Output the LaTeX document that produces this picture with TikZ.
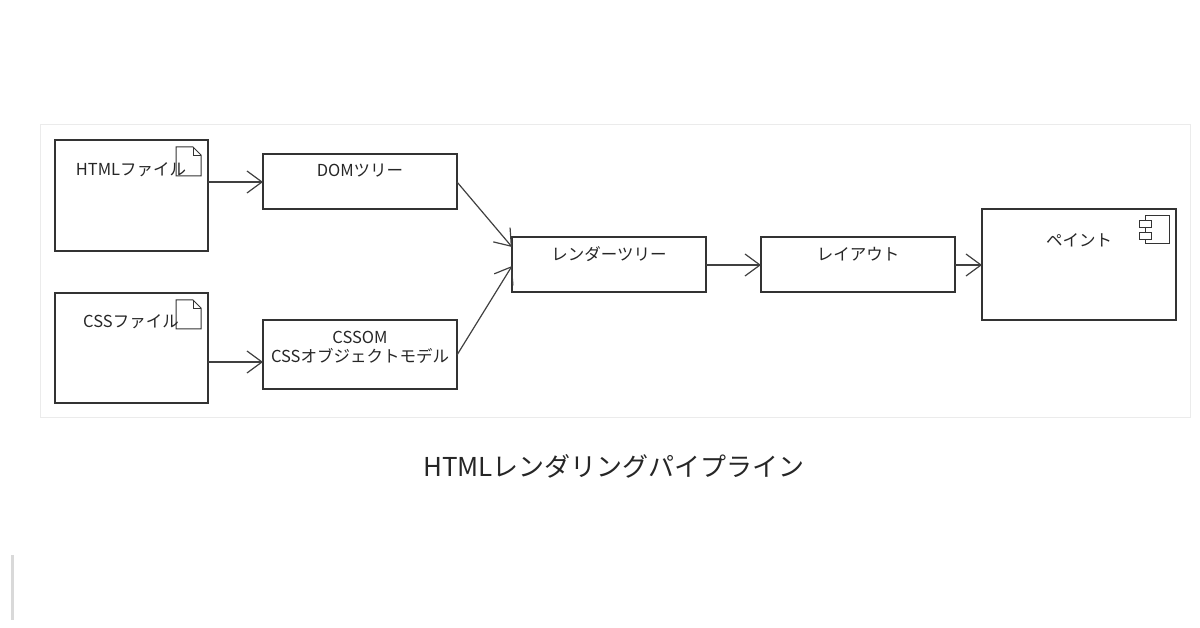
\documentclass[tikz,border=0pt]{standalone}
\usepackage{fontspec}
\setmainfont{Noto Sans CJK JP}
\usetikzlibrary{arrows.meta}
\begin{document}
\begin{tikzpicture}[x=1pt,y=-1pt,
  box/.style={draw=black!80,line width=1.2pt},
  lbl/.style={font=\fontsize{16.5}{19}\selectfont,text=black!85,align=center},
  conn/.style={draw=black!75,line width=1.2pt,-{Straight Barb[length=15pt,width=22pt]}}]
\useasboundingbox (0,0) rectangle (1200,628);
\draw[black!8,line width=1pt] (40,125) rectangle (1190,417);
\fill[black!15] (11,555) rectangle (14,620);
% boxes
\draw[box] (55,140) rectangle (208,251); \coordinate (hr) at (208,182);
\draw[box] (55,293) rectangle (208,403); \coordinate (cr) at (208,362);
\draw[box] (263,154) rectangle (457,209); \coordinate (dl) at (263,182); \coordinate (dr) at (457,182);
\draw[box] (263,320) rectangle (457,389); \coordinate (sl) at (263,362); \coordinate (sr) at (457,355);
\draw[box] (512,237) rectangle (706,292); \coordinate (ra) at (512,247); \coordinate (rb) at (512,266); \coordinate (rr) at (706,265);
\draw[box] (761,237) rectangle (955,292); \coordinate (ll) at (761,265); \coordinate (lr) at (955,265);
\draw[box] (982,209) rectangle (1176,320); \coordinate (pl) at (982,265);
% file icons
\foreach \y in {147,300}{
 \draw[black!80,line width=1pt,fill=white] (176,\y) -- (193,\y) -- (201,\y+8) -- (201,\y+29) -- (176,\y+29) -- cycle;
 \draw[black!80,line width=0.8pt] (193,\y) -- (193,\y+8) -- (201,\y+8);
}
% component icon
\draw[black!80,line width=1pt] (1145,216) rectangle (1169,244);
\draw[black!80,line width=1pt,fill=white] (1139,221) rectangle (1151,228);
\draw[black!80,line width=1pt,fill=white] (1139,233) rectangle (1151,240);
% labels
\node[lbl] (t1) at (131,170) {HTMLファイル};
\node[lbl] (t2) at (131,322) {CSSファイル};
\node[lbl] (t3) at (360,171) {DOMツリー};
\node[lbl] (t4) at (360,347) {CSSOM\\[0pt]CSSオブジェクトモデル};
\node[lbl] (t5) at (609,254) {レンダーツリー};
\node[lbl] (t6) at (858,254) {レイアウト};
\node[lbl] (t7) at (1079,240) {ペイント};
\node[font=\fontsize{26}{30}\selectfont,text=black!85] (cap) at (614,466) {HTMLレンダリングパイプライン};
% connectors
\draw[conn] (hr) -- (dl);
\draw[conn] (cr) -- (sl);
\draw[conn] (dr) -- (ra);
\draw[conn] (sr) -- (rb);
\draw[conn] (rr) -- (ll);
\draw[conn] (lr) -- (pl);
\end{tikzpicture}
\end{document}
